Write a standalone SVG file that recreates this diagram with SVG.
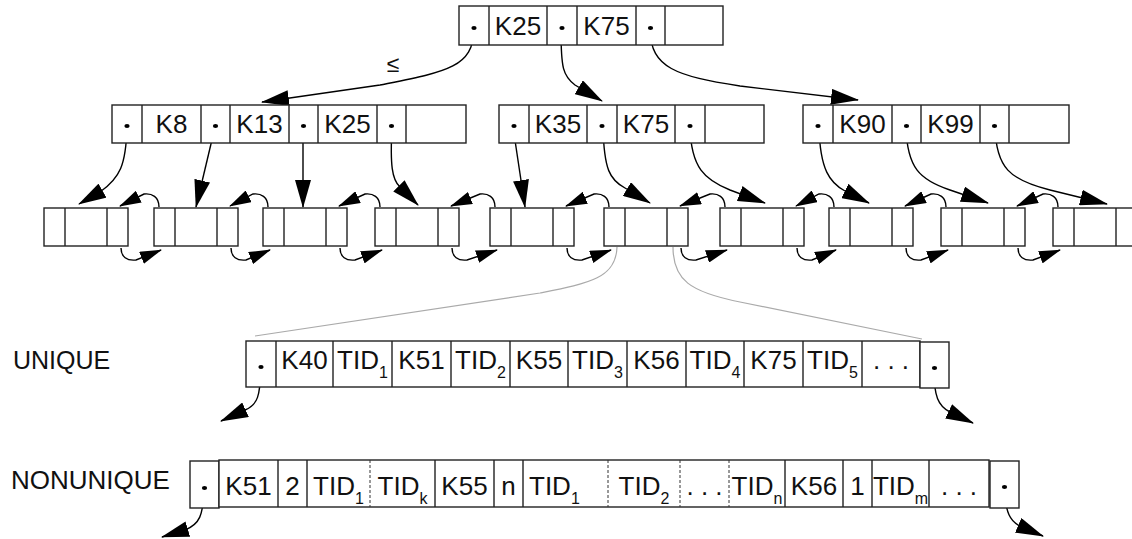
<svg xmlns="http://www.w3.org/2000/svg" width="1132" height="539" viewBox="0 0 1132 539">
<style>
.box{fill:#fff;stroke:#222;stroke-width:1.4}
.dv{stroke:#222;stroke-width:1.4}
.ds{stroke:#333;stroke-width:1;stroke-dasharray:3 2}
.t{font-family:"Liberation Sans",Arial,sans-serif;font-size:26px;fill:#111;text-anchor:middle}
.l{text-anchor:start}
.sub{font-size:16px}
.dot{fill:#000}
.a{fill:none;stroke:#000;stroke-width:1.4;marker-end:url(#ah)}
.s{fill:none;stroke:#000;stroke-width:1.4;marker-end:url(#as)}
.g{fill:none;stroke:#aaa;stroke-width:1.2}
</style>
<defs>
<marker id="ah" markerUnits="userSpaceOnUse" markerWidth="28" markerHeight="16" viewBox="0 0 28 16" refX="27" refY="8" orient="auto"><path d="M0,0 L28,8 L0,16 z" fill="#000"/></marker>
<marker id="as" markerUnits="userSpaceOnUse" markerWidth="22" markerHeight="13" viewBox="0 0 22 13" refX="21" refY="6.5" orient="auto"><path d="M0,0 L22,6.5 L0,13 z" fill="#000"/></marker>
</defs>

<g id="connectors">
<path class="g" d="M617,247 C616,278 590,283 540,293 L255,336"/>
<path class="g" d="M673,247 C673,280 690,292 740,302 L922,339"/>
<path class="a" d="M474,30 C473,68 445,72 380,85 L262,102"/>
<path class="a" d="M561,30 C561,68 563,76 575,85 L602,101"/>
<path class="a" d="M650,30 C651,68 676,76 740,86 L858,100"/>
<path class="a" d="M127,127 C126,165 120,178 100,192 L79,204"/>
<path class="a" d="M215,127 L196,207"/>
<path class="a" d="M303,127 L303,207"/>
<path class="a" d="M392,127 C390,165 392,180 400,187 L418,205"/>
<path class="a" d="M513,127 L525,207"/>
<path class="a" d="M603,127 C604,170 610,180 625,188 L650,203"/>
<path class="a" d="M690,127 C691,168 705,180 730,190 L765,203"/>
<path class="a" d="M819,127 C820,170 830,183 845,191 L869,203"/>
<path class="a" d="M906,127 C907,168 920,180 950,190 L988,203"/>
<path class="a" d="M995,127 C996,168 1010,180 1050,190 L1107,204"/>
<path class="s" d="M159,207 C159,197 152,193 144,194 L120,206"/>
<path class="s" d="M121,248 C121,257 127,261 136,260 L161,250"/>
<path class="s" d="M268,207 C268,197 261,193 253,194 L230,206"/>
<path class="s" d="M231,248 C231,257 237,261 246,260 L270,250"/>
<path class="s" d="M380,207 C380,197 373,193 365,194 L339,206"/>
<path class="s" d="M340,248 C340,257 346,261 355,260 L382,250"/>
<path class="s" d="M495,207 C495,197 488,193 480,194 L451,206"/>
<path class="s" d="M452,248 C452,257 458,261 467,260 L497,250"/>
<path class="s" d="M609,207 C609,197 602,193 594,194 L566,206"/>
<path class="s" d="M567,248 C567,257 573,261 582,260 L611,250"/>
<path class="s" d="M725,207 C725,197 718,193 710,194 L680,206"/>
<path class="s" d="M681,248 C681,257 687,261 696,260 L727,250"/>
<path class="s" d="M834,207 C834,197 827,193 819,194 L796,206"/>
<path class="s" d="M797,248 C797,257 803,261 812,260 L836,250"/>
<path class="s" d="M946,207 C946,197 939,193 931,194 L905,206"/>
<path class="s" d="M906,248 C906,257 912,261 921,260 L948,250"/>
<path class="s" d="M1058,207 C1058,197 1051,193 1043,194 L1017,206"/>
<path class="s" d="M1018,248 C1018,257 1024,261 1033,260 L1060,250"/>
<path class="a" d="M261,369 C260,395 258,405 245,410 L221,421"/>
<path class="a" d="M934,370 C934,396 938,406 950,412 L973,423"/>
<path class="a" d="M204,490 C203,515 200,524 185,530 L162,537"/>
<path class="a" d="M1005,489 C1005,512 1010,522 1022,527 L1043,536"/>
</g>

<text class="t" x="393" y="72" style="font-size:23px">≤</text>

<g id="root">
<rect class="box" x="459" y="6" width="264" height="39"/>
<path class="dv" d="M489,6V45M547,6V45M577,6V45M636,6V45M665,6V45"/>
<ellipse class="dot" cx="474" cy="28" rx="2.6" ry="2.1"/>
<ellipse class="dot" cx="562" cy="28" rx="2.6" ry="2.1"/>
<ellipse class="dot" cx="650.5" cy="28" rx="2.6" ry="2.1"/>
<text class="t" x="518" y="35">K25</text>
<text class="t" x="606.5" y="35">K75</text>
</g>

<g id="n1">
<rect class="box" x="112" y="105" width="354" height="38"/>
<path class="dv" d="M142,105V143M201,105V143M230,105V143M289,105V143M318,105V143M377,105V143M406,105V143"/>
<ellipse class="dot" cx="127" cy="126" rx="2.6" ry="2.1"/>
<ellipse class="dot" cx="215.5" cy="126" rx="2.6" ry="2.1"/>
<ellipse class="dot" cx="303.5" cy="126" rx="2.6" ry="2.1"/>
<ellipse class="dot" cx="391.5" cy="126" rx="2.6" ry="2.1"/>
<text class="t" x="171.5" y="133">K8</text>
<text class="t" x="259.5" y="133">K13</text>
<text class="t" x="347.5" y="133">K25</text>
</g>

<g id="n2">
<rect class="box" x="499" y="105" width="265" height="38"/>
<path class="dv" d="M529,105V143M587,105V143M617,105V143M675,105V143M705,105V143"/>
<ellipse class="dot" cx="514" cy="126" rx="2.6" ry="2.1"/>
<ellipse class="dot" cx="602" cy="126" rx="2.6" ry="2.1"/>
<ellipse class="dot" cx="690" cy="126" rx="2.6" ry="2.1"/>
<text class="t" x="558" y="133">K35</text>
<text class="t" x="646" y="133">K75</text>
</g>

<g id="n3">
<rect class="box" x="803" y="105" width="266" height="38"/>
<path class="dv" d="M833,105V143M892,105V143M921,105V143M980,105V143M1009,105V143"/>
<ellipse class="dot" cx="818" cy="126" rx="2.6" ry="2.1"/>
<ellipse class="dot" cx="906.5" cy="126" rx="2.6" ry="2.1"/>
<ellipse class="dot" cx="994.5" cy="126" rx="2.6" ry="2.1"/>
<text class="t" x="862.5" y="133">K90</text>
<text class="t" x="950.5" y="133">K99</text>
</g>

<g id="leaves">
<g id="leaf1"><rect class="box" x="44" y="208" width="84" height="38"/><path class="dv" d="M65,208V246M107,208V246"/></g>
<g id="leaf2"><rect class="box" x="154" y="208" width="84" height="38"/><path class="dv" d="M175,208V246M217,208V246"/></g>
<g id="leaf3"><rect class="box" x="263" y="208" width="84" height="38"/><path class="dv" d="M284,208V246M326,208V246"/></g>
<g id="leaf4"><rect class="box" x="375" y="208" width="84" height="38"/><path class="dv" d="M396,208V246M438,208V246"/></g>
<g id="leaf5"><rect class="box" x="490" y="208" width="84" height="38"/><path class="dv" d="M511,208V246M553,208V246"/></g>
<g id="leaf6"><rect class="box" x="604" y="208" width="84" height="38"/><path class="dv" d="M625,208V246M667,208V246"/></g>
<g id="leaf7"><rect class="box" x="720" y="208" width="84" height="38"/><path class="dv" d="M741,208V246M783,208V246"/></g>
<g id="leaf8"><rect class="box" x="829" y="208" width="84" height="38"/><path class="dv" d="M850,208V246M892,208V246"/></g>
<g id="leaf9"><rect class="box" x="941" y="208" width="84" height="38"/><path class="dv" d="M962,208V246M1004,208V246"/></g>
<g id="leaf10"><rect class="box" x="1053" y="208" width="84" height="38"/><path class="dv" d="M1074,208V246M1116,208V246"/></g>
</g>

<g id="unique">
<text class="t l" x="13" y="369" style="font-size:25px">UNIQUE</text>
<rect class="box" x="246" y="341" width="674" height="46"/>
<path class="dv" d="M276,341V387M333,341V387M392,341V387M451,341V387M510,341V387M568,341V387M627,341V387M686,341V387M744,341V387M803,341V387M862,341V387"/>
<rect class="box" x="920" y="342" width="29" height="46"/>
<ellipse class="dot" cx="261" cy="367" rx="2.6" ry="2.1"/>
<ellipse class="dot" cx="934.5" cy="368" rx="2.6" ry="2.1"/>
<text class="t" x="304.5" y="369">K40</text>
<text class="t" x="362.5" y="369">TID<tspan class="sub" dy="9">1</tspan></text>
<text class="t" x="421.5" y="369">K51</text>
<text class="t" x="480.5" y="369">TID<tspan class="sub" dy="9">2</tspan></text>
<text class="t" x="539" y="369">K55</text>
<text class="t" x="597.5" y="369">TID<tspan class="sub" dy="9">3</tspan></text>
<text class="t" x="656.5" y="369">K56</text>
<text class="t" x="715" y="369">TID<tspan class="sub" dy="9">4</tspan></text>
<text class="t" x="773.5" y="369">K75</text>
<text class="t" x="832.5" y="369">TID<tspan class="sub" dy="9">5</tspan></text>
<text class="t" x="891" y="369">. . .</text>
</g>

<g id="nonunique">
<text class="t l" x="11" y="489">NONUNIQUE</text>
<rect class="box" x="190" y="461" width="29" height="47"/>
<rect class="box" x="219" y="460" width="770" height="47"/>
<rect class="box" x="990" y="461" width="29" height="47"/>
<path class="dv" d="M278,460V507M307,460V507M435,460V507M494,460V507M523,460V507M785,460V507M843,460V507M872,460V507M929,460V507"/>
<path class="ds" d="M370,460V507M608,460V507M680,460V507M729,460V507"/>
<ellipse class="dot" cx="204.5" cy="488" rx="2.6" ry="2.1"/>
<ellipse class="dot" cx="1004.5" cy="487" rx="2.6" ry="2.1"/>
<text class="t" x="248.5" y="495">K51</text>
<text class="t" x="292.5" y="495">2</text>
<text class="t" x="338.5" y="495">TID<tspan class="sub" dy="9">1</tspan></text>
<text class="t" x="402.5" y="495">TID<tspan class="sub" dy="9">k</tspan></text>
<text class="t" x="464.5" y="495">K55</text>
<text class="t" x="508.5" y="495">n</text>
<text class="t l" x="529" y="495">TID<tspan class="sub" dy="9">1</tspan></text>
<text class="t" x="644" y="495">TID<tspan class="sub" dy="9">2</tspan></text>
<text class="t" x="704.5" y="495">. . .</text>
<text class="t" x="757" y="495">TID<tspan class="sub" dy="9">n</tspan></text>
<text class="t" x="814" y="495">K56</text>
<text class="t" x="857.5" y="495">1</text>
<text class="t" x="900.5" y="495">TID<tspan class="sub" dy="9">m</tspan></text>
<text class="t" x="959" y="495">. . .</text>
</g>
</svg>
